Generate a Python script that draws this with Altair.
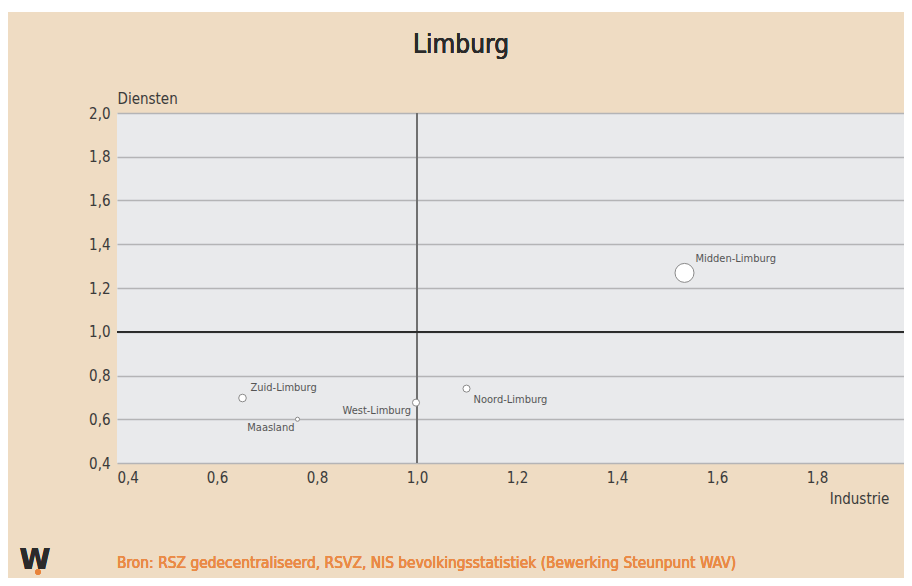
import altair as alt
import pandas as pd

# ---- data ----
regions = ["Midden-Limburg", "Zuid-Limburg", "Maasland", "West-Limburg", "Noord-Limburg"]
industrie = [1.535, 0.651, 0.761, 0.998, 1.099]
diensten = [1.269, 0.697, 0.600, 0.676, 0.740]
gewicht = [36, 5.8, 1.7, 5.0, 5.0]  # relative bubble size

tick_values = [0.4, 0.6, 0.8, 1.0, 1.2, 1.4, 1.6, 1.8, 2.0]
title_text = "Limburg"
x_title = "Industrie"
y_title = "Diensten"
source_text = "Bron: RSZ gedecentraliseerd, RSVZ, NIS bevolkingsstatistiek (Bewerking Steunpunt WAV)"

df = pd.DataFrame({"regio": regions, "industrie": industrie,
                   "diensten": diensten, "gewicht": gewicht})

FONT = "'DejaVu Sans Condensed', Roboto, sans-serif"
BEIGE = "#efdcc3"
label_fmt = "replace(format(datum.value, '.1f'), '.', ',')"

# x range runs past the visible frame: the reference is cropped on the right
xs = alt.Scale(domain=[0.4, 2.0], range=[0, 800], nice=False, zero=False)
ys = alt.Scale(domain=[0.4, 2.0], nice=False, zero=False)

base = alt.Chart(df)

x_enc = alt.X("industrie:Q", scale=xs, title=x_title,
              axis=alt.Axis(values=tick_values, labelExpr=label_fmt, grid=False,
                            domain=False, ticks=False, labelPadding=7,
                            labelFontSize=15, labelColor="#3a3a3a", labelFont=FONT,
                            labelAlign=alt.expr("datum.value <= 0.4 ? 'left' : 'center'"),
                            labelFlush=False, labelOverlap=False,
                            titleFont=FONT, titleFontSize=15, titleFontWeight="normal",
                            titleColor="#3a3a3a", titleX=742, titleY=35,
                            titleAlign="center", titleBaseline="middle"))
y_enc = alt.Y("diensten:Q", scale=ys, title=y_title,
              axis=alt.Axis(values=tick_values, labelExpr=label_fmt, grid=True,
                            gridColor="#b4b4b6", gridWidth=1.5,
                            domain=False, ticks=False, labelPadding=7,
                            labelFontSize=15, labelColor="#3a3a3a", labelFont=FONT,
                            titleFont=FONT, titleFontSize=15, titleFontWeight="normal",
                            titleColor="#3a3a3a", titleAngle=0, titleX=0, titleY=-15,
                            titleAlign="left", titleBaseline="middle"))

vline = base.mark_rule(color="#707070", strokeWidth=2).encode(x=alt.datum(1.0, scale=xs))
hline = base.mark_rule(color="#2a2a2a", strokeWidth=1.5).encode(y=alt.datum(1.0, scale=ys))

points = base.mark_point(shape="circle", filled=True, fill="white",
                         stroke="#8a8a8a", strokeWidth=1, opacity=1).encode(
    x=x_enc, y=y_enc,
    size=alt.Size("gewicht:Q", scale=alt.Scale(domain=[0, 36], range=[0, 360]), legend=None),
)

label_style = {
    "Midden-Limburg": dict(align="left", dx=11, dy=-14),
    "Zuid-Limburg": dict(align="left", dx=8, dy=-10),
    "Maasland": dict(align="right", dx=-3, dy=9),
    "West-Limburg": dict(align="right", dx=-5, dy=8),
    "Noord-Limburg": dict(align="left", dx=7, dy=11),
}
labels = []
for reg, st in label_style.items():
    labels.append(
        base.transform_filter(alt.datum.regio == reg).mark_text(
            font=FONT, fontSize=11, color="#555555", baseline="middle", **st
        ).encode(x=alt.X("industrie:Q", scale=xs), y=alt.Y("diensten:Q", scale=ys),
                 text="regio:N")
    )

title = base.mark_text(font=FONT, fontSize=26, color="#2a2a2a", align="center",
                       baseline="middle").encode(
    x=alt.value(344), y=alt.value(-68), text=alt.value(title_text))
footer = base.mark_text(font=FONT, fontSize=15.4, color="#ea8a45", align="left",
                        baseline="middle").encode(
    x=alt.value(0), y=alt.value(450), text=alt.value(source_text))
logo = base.mark_text(font="DejaVu Sans", fontSize=28, fontWeight="bold", color="#2b2b2b",
                      align="center", baseline="middle").encode(
    x=alt.value(-82), y=alt.value(448), text=alt.value("W"))
logo_dot = base.mark_point(shape="circle", filled=True, color="#e8833a", opacity=1,
                           size=28).encode(x=alt.value(-79), y=alt.value(459))

# thin white strip at the very top, as in the reference frame
top_strip = base.mark_rect(color="white").encode(
    x=alt.value(-109), x2=alt.value(800), y=alt.value(-105), y2=alt.value(-101))

chart = alt.layer(top_strip, vline, hline, points, *labels, title, footer, logo,
                  logo_dot).properties(
    width=787, height=350,
    autosize=alt.AutoSizeParams(type="none"),
    padding={"left": 109, "top": 105, "right": 0, "bottom": 115},
).configure(background=BEIGE).configure_view(fill="#e9eaec", stroke=None)

chart.save("out.html", embed_options={"renderer": "svg", "actions": False})
